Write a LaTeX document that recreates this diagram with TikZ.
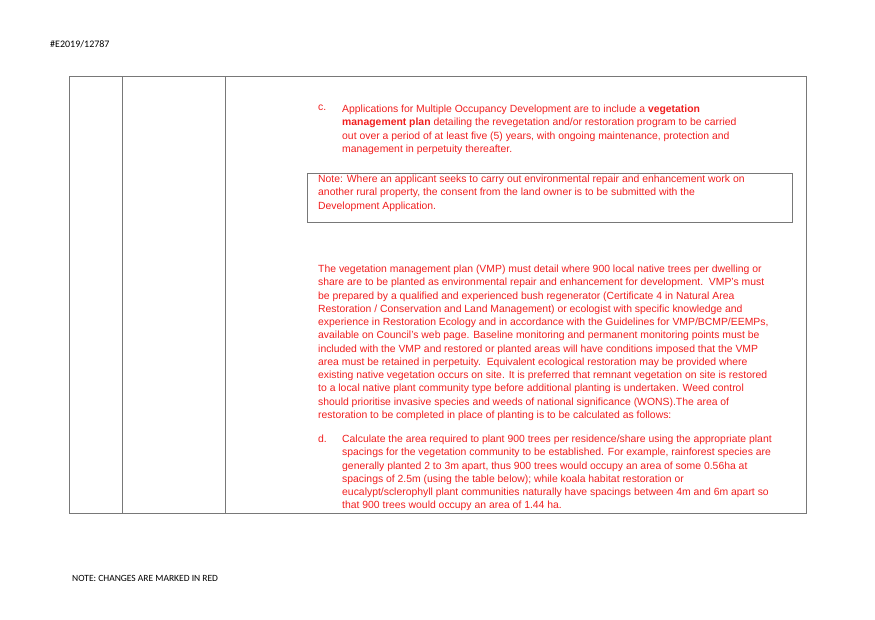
\documentclass[tikz,border=0pt]{standalone}
\usepackage{fontspec}
\setmainfont{Liberation Sans}
\newfontfamily\calib{Carlito}
\definecolor{rtxt}{RGB}{240,30,30}
\definecolor{bline}{RGB}{120,120,120}
\begin{document}
\begin{tikzpicture}[x=1pt,y=-1pt,
  para/.style={anchor=north west,inner sep=0pt,align=left,text=rtxt,font=\fontsize{10.4}{13.25}\selectfont},
  frame/.style={draw=bline,line width=0.8pt}]
\useasboundingbox (0,0) rectangle (875,619);
\node[anchor=base west,inner sep=0pt,font=\calib\fontsize{10}{12}\selectfont] (hdr) at (50,47) {\#E2019/12787};
\node[anchor=base west,inner sep=0pt,font=\calib\fontsize{9.5}{12}\selectfont] (ftr) at (72,581) {NOTE: CHANGES ARE MARKED IN RED};
\draw[frame] (69,76) rectangle (806,513);
\draw[frame] (122,76) -- (122,513);
\draw[frame] (225,76) -- (225,513);
\draw[frame] (307,173) rectangle (792,222);
\node[para] (cl) at (318,105) {c.};
\node[para] (c) at (342,105) {Applications for Multiple Occupancy Development are to include a \textbf{vegetation}\\
\textbf{management plan} detailing the revegetation and/or restoration program to be carried\\
out over a period of at least five (5) years, with ongoing maintenance, protection and\\
management in perpetuity thereafter.};
\node[para] (note) at (318,175) {Note: Where an applicant seeks to carry out environmental repair and enhancement work on\\
another rural property, the consent from the land owner is to be submitted with the\\
Development Application.};
\node[para] (vmp) at (318,265) {The vegetation management plan (VMP) must detail where 900 local native trees per dwelling or\\
share are to be planted as environmental repair and enhancement for development.\ \ VMP's must\\
be prepared by a qualified and experienced bush regenerator (Certificate 4 in Natural Area\\
Restoration / Conservation and Land Management) or ecologist with specific knowledge and\\
experience in Restoration Ecology and in accordance with the Guidelines for VMP/BCMP/EEMPs,\\
available on Council's web page. Baseline monitoring and permanent monitoring points must be\\
included with the VMP and restored or planted areas will have conditions imposed that the VMP\\
area must be retained in perpetuity.\ \ Equivalent ecological restoration may be provided where\\
existing native vegetation occurs on site. It is preferred that remnant vegetation on site is restored\\
to a local native plant community type before additional planting is undertaken. Weed control\\
should prioritise invasive species and weeds of national significance (WONS).The area of\\
restoration to be completed in place of planting is to be calculated as follows:};
\node[para] (dl) at (318,435) {d.};
\node[para] (d) at (342,435) {Calculate the area required to plant 900 trees per residence/share using the appropriate plant\\
spacings for the vegetation community to be established. For example, rainforest species are\\
generally planted 2 to 3m apart, thus 900 trees would occupy an area of some 0.56ha at\\
spacings of 2.5m (using the table below); while koala habitat restoration or\\
eucalypt/sclerophyll plant communities naturally have spacings between 4m and 6m apart so\\
that 900 trees would occupy an area of 1.44 ha.};
\end{tikzpicture}
\end{document}
